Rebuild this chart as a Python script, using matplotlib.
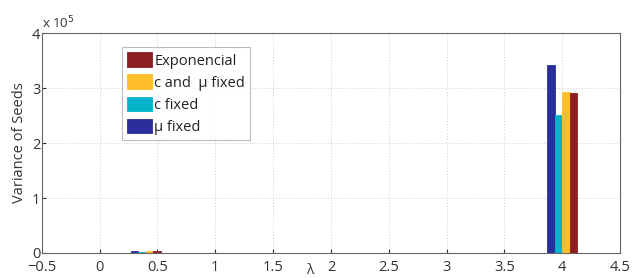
import matplotlib.pyplot as plt
from matplotlib.ticker import FuncFormatter

plt.rcParams['font.family'] = ['Open Sans', 'DejaVu Sans']

# lambda positions of the bar groups
lam = [0.0, 0.4, 4.0]

# variance of seeds for each series (raw values)
mu_fixed = [800, 4500, 342000]
c_fixed = [500, 2500, 251000]
c_mu_fixed = [600, 3000, 293000]
exponencial = [700, 4500, 291000]

series = ["\u03bc fixed", "c fixed", "c and  \u03bc fixed", "Exponencial"]
colors = ["#2b2f9b", "#05b3cb", "#fdbe2a", "#8e1e22"]

fig = plt.figure(figsize=(6.34, 2.78), dpi=100)
ax = fig.add_axes([0.066, 0.09, 0.912, 0.791])

width = 0.065
offsets = [-1.5, -0.5, 0.5, 1.5]
handles = []
for vals, name, col, off in zip([mu_fixed, c_fixed, c_mu_fixed, exponencial], series, colors, offsets):
    h = ax.bar([x + off * width for x in lam], vals, width=width, color=col,
               edgecolor=col, linewidth=0.6, label=name, zorder=3)
    handles.append(h)

ax.set_xlim(-0.5, 4.5)
ax.set_ylim(0, 400000)
ax.set_xticks([-0.5, 0, 0.5, 1, 1.5, 2, 2.5, 3, 3.5, 4, 4.5])
ax.set_xticklabels(["\u22120.5", "0", "0.5", "1", "1.5", "2", "2.5", "3", "3.5", "4", "4.5"])
ax.set_yticks([0, 100000, 200000, 300000, 400000])
ax.yaxis.set_major_formatter(FuncFormatter(lambda v, p: "%d" % round(v / 1e5)))
ax.tick_params(direction="in", labelsize=10.5, colors="#333333", length=3, pad=1)
ax.tick_params(axis="x", pad=5)
ax.grid(True, linestyle=(0, (1, 2)), color="#cccccc", linewidth=0.7, zorder=0)
for s in ax.spines.values():
    s.set_color("#666666")
    s.set_linewidth(0.8)

ax.set_ylabel("Variance of Seeds", fontsize=10.5, color="#333333", labelpad=4)
ax.text(0.464, -0.08, "\u03bb", transform=ax.transAxes, fontsize=10,
        color="#333333", ha="center", va="center")
ax.text(0.0, 1.01, "x 10$^{5}$", transform=ax.transAxes, fontsize=9.5,
        color="#333333", ha="left", va="bottom")

leg = ax.legend(handles[::-1], series[::-1], loc="upper left",
                bbox_to_anchor=(0.138, 0.935), fontsize=10.5, frameon=True,
                fancybox=False, edgecolor="#aaaaaa", handlelength=1.7,
                handleheight=1.15, handletextpad=0.2, labelspacing=0.4,
                borderpad=0.35, borderaxespad=0)
leg.get_frame().set_linewidth(0.8)
for t in leg.get_texts():
    t.set_color("#222222")

fig.savefig("out.png", dpi=100)
